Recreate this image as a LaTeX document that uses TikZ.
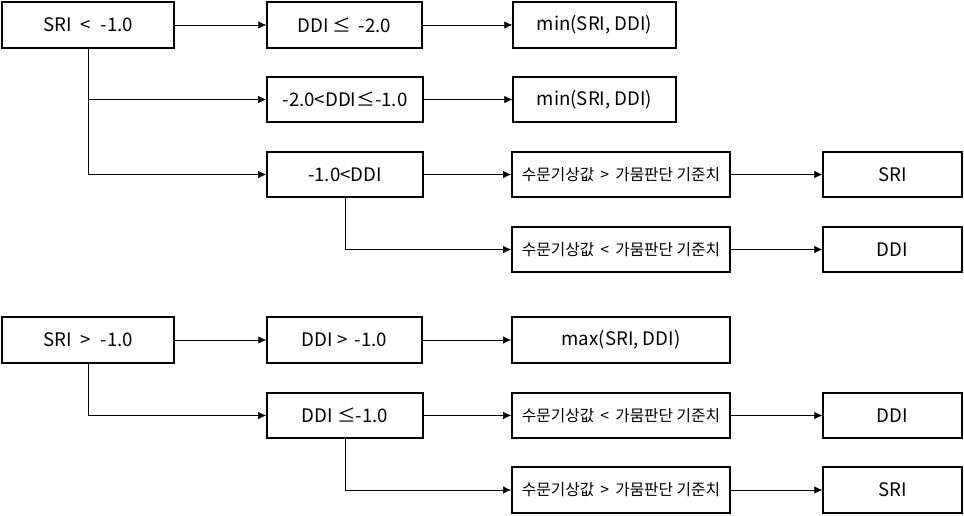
\documentclass[tikz,border=0pt]{standalone}
\usepackage{fontspec}
\setmainfont{Noto Sans CJK KR}
\usetikzlibrary{arrows.meta}

\begin{document}
\begin{tikzpicture}[x=0.75pt,y=-0.75pt,
  box/.style={draw,line width=1.3pt,minimum height=34pt,inner sep=0pt,font=\fontsize{14}{16}\selectfont},
  kbox/.style={box,minimum width=163.5pt,font=\fontsize{11.8}{13}\selectfont},
  res/.style={box,minimum width=104pt},
  >={Latex[length=6pt,width=5.5pt]}]
\useasboundingbox (0,0) rectangle (964,515);
\node[box,minimum width=129pt] (sriA) at (88,25) {SRI \;<\; -1.0};
\node[box,minimum width=116pt] (ddiA) at (344.5,25) {DDI ≤ \,-2.0};
\node[box,minimum width=117pt] (ddiB) at (345,99.5) {-2.0<DDI≤-1.0};
\node[box,minimum width=117pt] (ddiC) at (345,174.5) {-1.0<DDI};
\node[box,minimum width=122pt] (minA) at (594.5,25) {min(SRI, DDI)};
\node[box,minimum width=122pt] (minB) at (594.5,99.5) {min(SRI, DDI)};
\node[kbox] (cmpA) at (621,174.5) {수문기상값 \,>\, 가뭄판단 기준치};
\node[kbox] (cmpB) at (621,249.5) {수문기상값 \,<\, 가뭄판단 기준치};
\node[res] (resA) at (892.5,174.5) {SRI};
\node[res] (resB) at (892.5,249.5) {DDI};

\node[box,minimum width=129pt] (sriB) at (88,340) {SRI \;>\; -1.0};
\node[box,minimum width=116pt] (ddiD) at (344.5,340) {DDI > \,-1.0};
\node[box,minimum width=117pt] (ddiE) at (345,415.5) {DDI ≤-1.0};
\node[box,minimum width=163.5pt] (maxA) at (621,340) {max(SRI, DDI)};
\node[kbox] (cmpC) at (621,415.5) {수문기상값 \,<\, 가뭄판단 기준치};
\node[kbox] (cmpD) at (621,490) {수문기상값 \,>\, 가뭄판단 기준치};
\node[res] (resC) at (892.5,415.5) {DDI};
\node[res] (resD) at (892.5,490) {SRI};

\draw[->] (sriA) -- (ddiA);
\draw[->] (sriA.south) |- (ddiB);
\draw[->] (sriA.south) |- (ddiC);
\draw[->] (ddiA) -- (minA);
\draw[->] (ddiB) -- (minB);
\draw[->] (ddiC) -- (cmpA);
\draw[->] (ddiC.south) |- (cmpB);
\draw[->] (cmpA) -- (resA);
\draw[->] (cmpB) -- (resB);
\draw[->] (sriB) -- (ddiD);
\draw[->] (sriB.south) |- (ddiE);
\draw[->] (ddiD) -- (maxA);
\draw[->] (ddiE) -- (cmpC);
\draw[->] (ddiE.south) |- (cmpD);
\draw[->] (cmpC) -- (resC);
\draw[->] (cmpD) -- (resD);
\end{tikzpicture}
\end{document}
